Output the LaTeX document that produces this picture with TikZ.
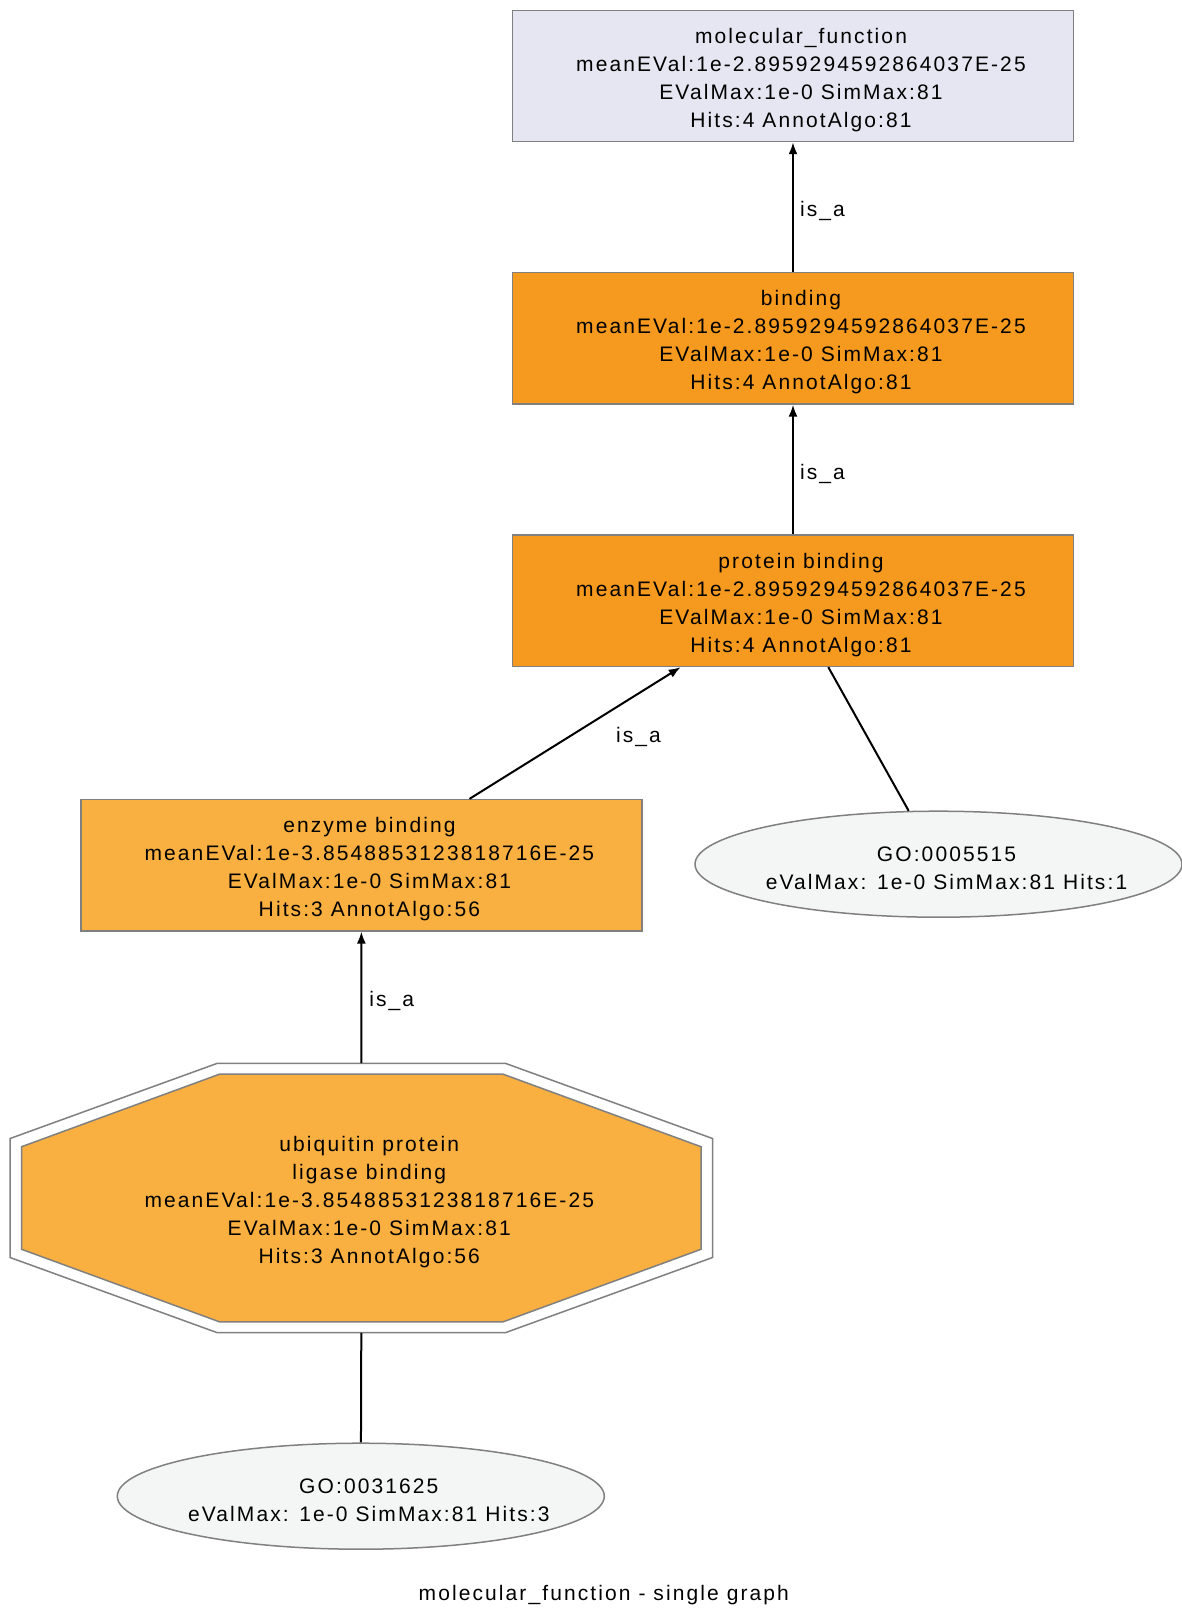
\documentclass[tikz,border=0pt]{standalone}
\usepackage{fontspec}
\setmainfont{Liberation Sans}[LetterSpace=10]
\usetikzlibrary{arrows.meta,shapes.geometric,calc}

\definecolor{rootfill}{RGB}{230,230,242}
\definecolor{darkorange}{RGB}{245,154,30}
\definecolor{lightorange}{RGB}{250,176,64}
\definecolor{leaffill}{RGB}{244,246,245}
\definecolor{bordergray}{RGB}{128,128,128}

\tikzset{
  gvtext/.style={font=\fontsize{21}{28}\selectfont, align=center, text=black,
                 inner sep=0pt, xshift=8pt, yshift=-4pt},
  termbox/.style={rectangle, draw=bordergray, line width=1.5pt,
                  minimum width=560.7pt, minimum height=131.2pt, inner sep=0pt},
  geneleaf/.style={ellipse, draw=bordergray, fill=leaffill, line width=1.5pt,
                   minimum width=487pt, minimum height=106pt, inner sep=0pt},
  isa/.style={line width=2pt, -{Latex[length=12pt,width=9pt]}},
  plainedge/.style={line width=2pt},
  edgelabel/.style={font=\fontsize{21}{28}\selectfont, inner sep=0pt, yshift=-4pt}
}

\begin{document}
\begin{tikzpicture}[x=1pt,y=-1pt]
\useasboundingbox[fill=white] (0,0) rectangle (1182,1608);

% GO term boxes
\node[termbox, fill=rootfill] (mol) at (793,75.9) {};
\node[termbox, fill=darkorange] (bind) at (793,338.3) {};
\node[termbox, fill=darkorange] (prot) at (793,600.8) {};
\node[termbox, fill=lightorange] (enz) at (361.4,865.2) {};

\node[gvtext] (moltext) at (mol)
  {molecular\_function\\meanEVal:1e-2.8959294592864037E-25\\EValMax:1e-0 SimMax:81\\Hits:4 AnnotAlgo:81};
\node[gvtext] (bindtext) at (bind)
  {binding\\meanEVal:1e-2.8959294592864037E-25\\EValMax:1e-0 SimMax:81\\Hits:4 AnnotAlgo:81};
\node[gvtext] (prottext) at (prot)
  {protein binding\\meanEVal:1e-2.8959294592864037E-25\\EValMax:1e-0 SimMax:81\\Hits:4 AnnotAlgo:81};
\node[gvtext] (enztext) at (enz)
  {enzyme binding\\meanEVal:1e-3.8548853123818716E-25\\EValMax:1e-0 SimMax:81\\Hits:3 AnnotAlgo:56};

% double octagon for the annotated leaf term
\node[minimum width=702.4pt, minimum height=269.4pt, inner sep=0pt] (ubq) at (361.3,1198) {};
\draw[bordergray, line width=1.5pt]
  ($(ubq.center)+(-144,-134.7)$) -- ($(ubq.center)+(144,-134.7)$) --
  ($(ubq.center)+(351.2,-59.5)$) -- ($(ubq.center)+(351.2,59.5)$) --
  ($(ubq.center)+(144,134.7)$) -- ($(ubq.center)+(-144,134.7)$) --
  ($(ubq.center)+(-351.2,59.5)$) -- ($(ubq.center)+(-351.2,-59.5)$) -- cycle;
\draw[bordergray, fill=lightorange, line width=1.5pt]
  ($(ubq.center)+(-141.6,-123.9)$) -- ($(ubq.center)+(141.6,-123.9)$) --
  ($(ubq.center)+(339.7,-51.3)$) -- ($(ubq.center)+(339.7,51.3)$) --
  ($(ubq.center)+(141.6,123.9)$) -- ($(ubq.center)+(-141.6,123.9)$) --
  ($(ubq.center)+(-339.7,51.3)$) -- ($(ubq.center)+(-339.7,-51.3)$) -- cycle;
\node[gvtext] (ubqtext) at (ubq.center)
  {ubiquitin protein\\ligase binding\\meanEVal:1e-3.8548853123818716E-25\\EValMax:1e-0 SimMax:81\\Hits:3 AnnotAlgo:56};

% gene product leaves
\node[geneleaf] (go1) at (938.5,864.2) {};
\node[gvtext] (go1text) at (go1) {GO:0005515\\eValMax: 1e-0 SimMax:81 Hits:1};
\node[geneleaf] (go2) at (360.8,1496.2) {};
\node[gvtext] (go2text) at (go2) {GO:0031625\\eValMax: 1e-0 SimMax:81 Hits:3};

% is_a relations
\draw[isa] (bind) -- node[edgelabel, right=6pt] {is\_a} (mol);
\draw[isa] (prot) -- node[edgelabel, right=6pt] {is\_a} (bind);
\draw[isa] ([xshift=108.1pt]enz.north) -- node[edgelabel, right=40pt] {is\_a} ([xshift=-112.3pt]prot.south);
\draw[isa] (ubq.north) -- node[edgelabel, right=7pt] {is\_a} (enz);

% annotation links
\draw[plainedge] ([xshift=35.3pt]prot.south) -- (go1);
\draw[plainedge] (ubq.south) -- (go2);

% caption
\node[gvtext, xshift=-8pt, yshift=1pt] (caption) at (603.8,1592) {molecular\_function - single graph};
\end{tikzpicture}
\end{document}
